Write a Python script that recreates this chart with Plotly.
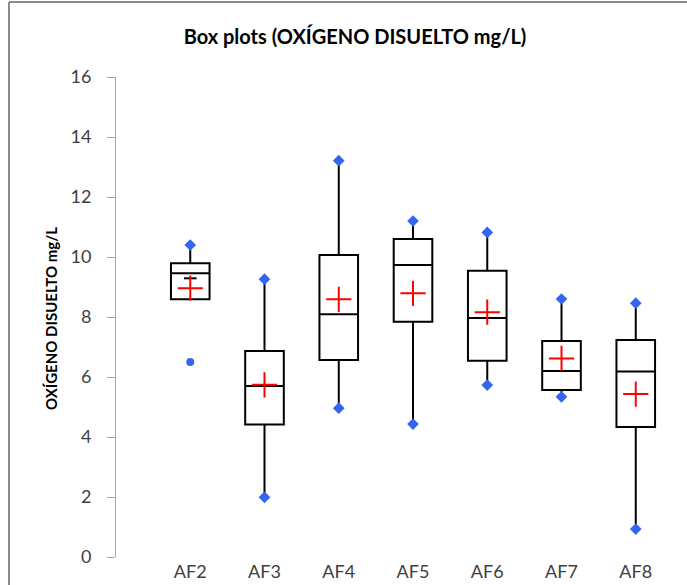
import plotly.graph_objects as go

# Summary statistics per sampling site (dissolved oxygen, mg/L)
sites = ["AF2", "AF3", "AF4", "AF5", "AF6", "AF7", "AF8"]
q1 = [8.59, 4.42, 6.57, 7.84, 6.54, 5.57, 4.33]
median = [9.46, 5.70, 8.09, 9.73, 7.97, 6.20, 6.18]
q3 = [9.79, 6.87, 10.07, 10.60, 9.54, 7.20, 7.23]
lower_whisker = [9.29, 1.99, 4.96, 4.43, 5.73, 5.34, 0.93]
upper_whisker = [10.40, 9.26, 13.21, 11.20, 10.82, 8.60, 8.46]
means = [8.96, 5.74, 8.59, 8.79, 8.16, 6.62, 5.43]
outlier_sites = ["AF2"]
outlier_values = [6.50]

y_ticks = [0, 2, 4, 6, 8, 10, 12, 14, 16]

FONT = "Lato, 'Open Sans', sans-serif"
BLUE = "#3366ee"

fig = go.Figure()

fig.add_trace(go.Box(
    x=sites, q1=q1, median=median, q3=q3,
    lowerfence=lower_whisker, upperfence=upper_whisker,
    boxpoints=False, whiskerwidth=0, width=0.52,
    fillcolor="white", line=dict(color="black", width=2),
    hoverinfo="skip",
))

# whisker ends that sit inside the box get a small cap
cap_sites = [s for s, lo, a in zip(sites, lower_whisker, q1) if lo > a]
cap_vals = [lo for lo, a in zip(lower_whisker, q1) if lo > a]
fig.add_trace(go.Scatter(
    x=cap_sites, y=cap_vals, mode="markers",
    marker=dict(symbol="line-ew", size=9, line=dict(color="black", width=2)),
))

# minimum / maximum markers
min_sites = [s for s, lo, a in zip(sites, lower_whisker, q1) if lo <= a]
min_vals = [lo for lo, a in zip(lower_whisker, q1) if lo <= a]
fig.add_trace(go.Scatter(
    x=sites + min_sites, y=upper_whisker + min_vals, mode="markers",
    marker=dict(symbol="diamond", size=9, color=BLUE),
))

# outliers
fig.add_trace(go.Scatter(
    x=outlier_sites, y=outlier_values, mode="markers",
    marker=dict(symbol="circle", size=8, color=BLUE),
))

# means
fig.add_trace(go.Scatter(
    x=sites, y=means, mode="markers",
    marker=dict(symbol="cross-thin", size=18, line=dict(color="red", width=2)),
))

fig.update_layout(
    width=687, height=585,
    margin=dict(l=116, r=0, t=77, b=28),
    paper_bgcolor="white", plot_bgcolor="white",
    showlegend=False,
    title=dict(
        text="<b>Box plots (OXÍGENO DISUELTO mg/L)</b>",
        x=355 / 687, xanchor="center", y=1 - 37 / 585, yanchor="middle",
        font=dict(family=FONT, size=20, color="black"),
    ),
    xaxis=dict(
        type="category", range=[-1, 6.69],
        showline=False, ticks="", showgrid=False, zeroline=False,
        ticklabelstandoff=2,
        tickfont=dict(family=FONT, size=18, color="#404040"),
    ),
    yaxis=dict(
        range=[0, 16], tickvals=y_ticks,
        showline=True, linecolor="#a6a6a6", linewidth=1,
        ticks="outside", ticklen=8, tickcolor="#a6a6a6",
        showgrid=False, zeroline=False,
        ticklabelstandoff=12,
        tickfont=dict(family=FONT, size=18, color="#404040"),
    ),
    annotations=[dict(
        text="<b>OXÍGENO DISUELTO mg/L</b>", textangle=-90,
        xref="paper", yref="paper", x=(51 - 116) / 571, y=(557 - 319) / 480,
        xanchor="center", yanchor="middle", showarrow=False,
        font=dict(family=FONT, size=15, color="black"),
    )],
    shapes=[
        dict(type="line", xref="paper", yref="paper",
             x0=(9 - 116) / 571, x1=(9 - 116) / 571, y0=-0.1, y1=1 + 75 / 480,
             line=dict(color="#8c8c8c", width=2)),
        dict(type="line", xref="paper", yref="paper",
             x0=(9 - 116) / 571, x1=1.0, y0=1 + 75 / 480, y1=1 + 75 / 480,
             line=dict(color="#8c8c8c", width=2)),
    ],
)

fig.write_html("out.html")
